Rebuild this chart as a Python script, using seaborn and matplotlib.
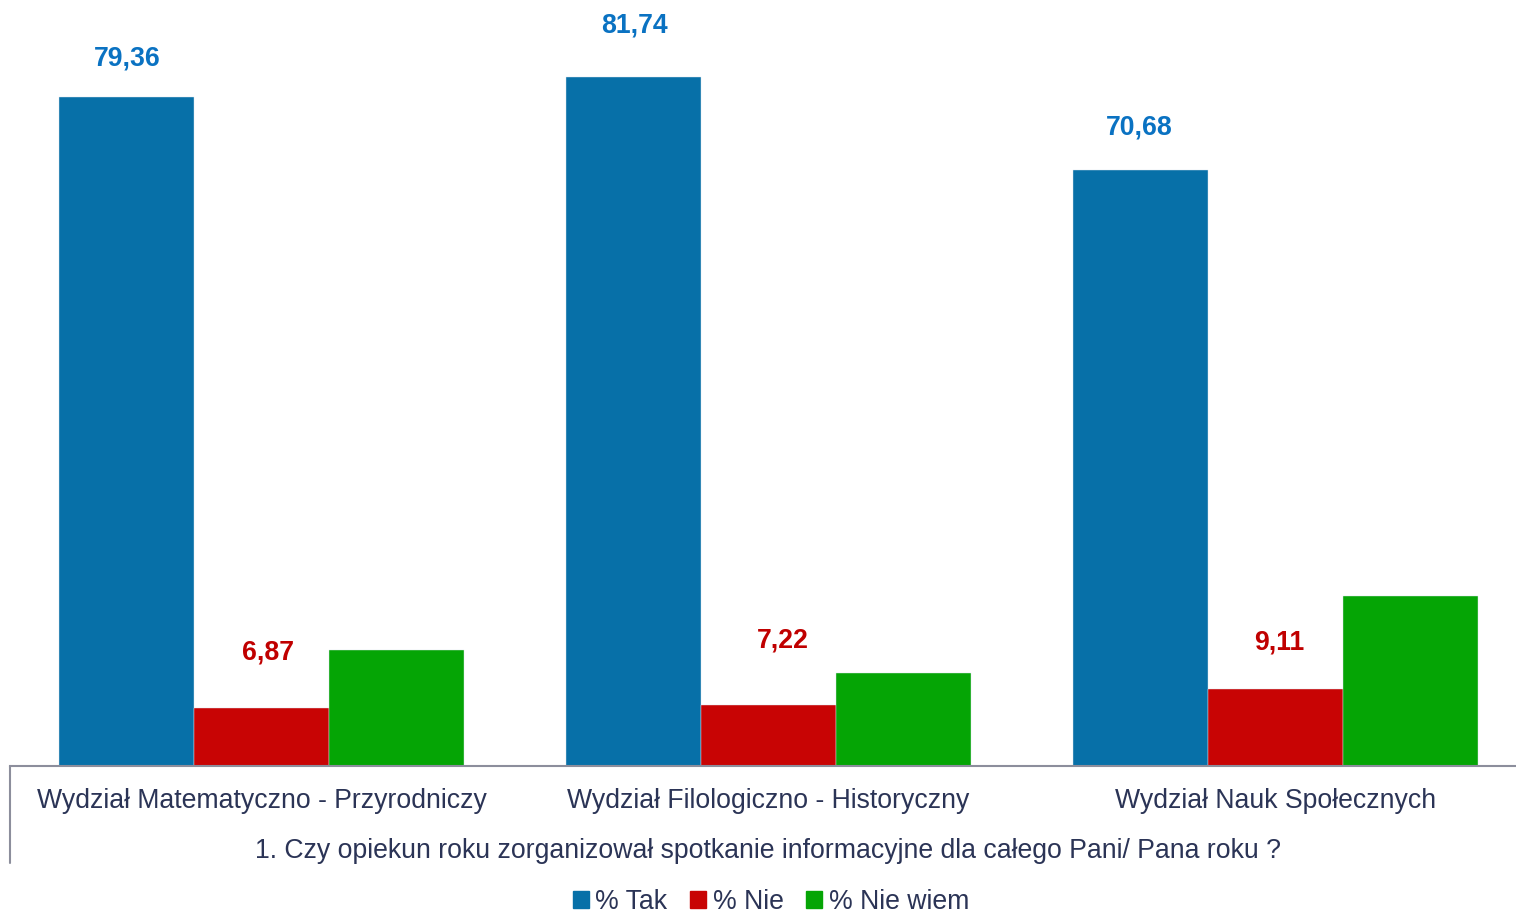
import matplotlib
matplotlib.use("Agg")
import matplotlib.pyplot as plt
from matplotlib.lines import Line2D
import seaborn as sns
import pandas as pd

categories = ["Wydział Matematyczno - Przyrodniczy",
              "Wydział Filologiczno - Historyczny",
              "Wydział Nauk Społecznych"]
series_names = ["% Tak", "% Nie", "% Nie wiem"]
tak = [79.36, 81.74, 70.68]
nie = [6.87, 7.22, 9.11]
nie_wiem = [13.77, 11.04, 20.21]
question = "1. Czy opiekun roku zorganizował spotkanie informacyjne dla całego Pani/ Pana roku ?"

bar_colors = ["#0770A8", "#C80404", "#05A505"]
label_colors = ["#0A72C2", "#C00000", None]
text_color = "#2B3456"
line_color = "#8C8E9C"
FS = 19.2

rows = []
for name, vals in zip(series_names, [tak, nie, nie_wiem]):
    for c, v in zip(categories, vals):
        rows.append({"Wydział": c, "Seria": name, "Wartość": v})
df = pd.DataFrame(rows)

sns.set_style("white")
plt.rcParams["font.family"] = ["Liberation Sans", "DejaVu Sans"]

W, H = 1516, 913
fig = plt.figure(figsize=(W / 100, H / 100), dpi=100)
ax = fig.add_axes([10 / W, (H - 766) / H, 1506 / W, 766 / H])

sns.barplot(data=df, x="Wydział", y="Wartość", hue="Seria", order=categories,
            hue_order=series_names, palette=bar_colors, width=0.8, gap=0,
            edgecolor="#DDE6EE", linewidth=0.3, ax=ax, legend=False, saturation=1)

ax.set_xlim(-0.496, 2.474)
ax.set_ylim(0, 90.9)
ax.set_yticks([])
ax.set_ylabel("")
for s in ["top", "right", "left"]:
    ax.spines[s].set_visible(False)
ax.spines["bottom"].set_color(line_color)
ax.spines["bottom"].set_linewidth(1.5)
ax.tick_params(axis="x", length=0, pad=15.5, labelsize=FS, labelcolor=text_color)
ax.set_xlabel(question, fontsize=FS, color=text_color, labelpad=17.5)
ax.xaxis.label.set_x(0.5 + 5 / 1506)

# value labels (only for Tak and Nie), offsets in pixels
label_offsets = [[(1, 39), (1, 52), (-1, 43)], [(6, 56), (14, 65), (4, 47)]]
for si, cont in enumerate(ax.containers[:2]):
    for bi, patch in enumerate(cont.patches):
        val = patch.get_height()
        dx, dy = label_offsets[si][bi]
        ax.annotate(f"{val:.2f}".replace(".", ","),
                    xy=(patch.get_x() + patch.get_width() / 2, val),
                    xytext=(dx, dy), textcoords="offset pixels",
                    ha="center", va="center", fontsize=FS, fontweight="bold",
                    color=label_colors[si], annotation_clip=False)

# left border line of the category area
fig.add_artist(Line2D([10 / W, 10 / W], [(H - 766) / H, (H - 863) / H],
                      transform=fig.transFigure, color=line_color, linewidth=1.5))

handles = [plt.Rectangle((0, 0), 1, 1, color=c) for c in bar_colors]
fig.legend(handles, series_names, loc="center", bbox_to_anchor=(771 / W, (H - 902) / H),
           ncol=3, frameon=False, fontsize=FS, handlelength=0.6, handleheight=0.6,
           handletextpad=0.25, columnspacing=0.85, labelcolor=text_color)

fig.savefig("out.png", dpi=100)
